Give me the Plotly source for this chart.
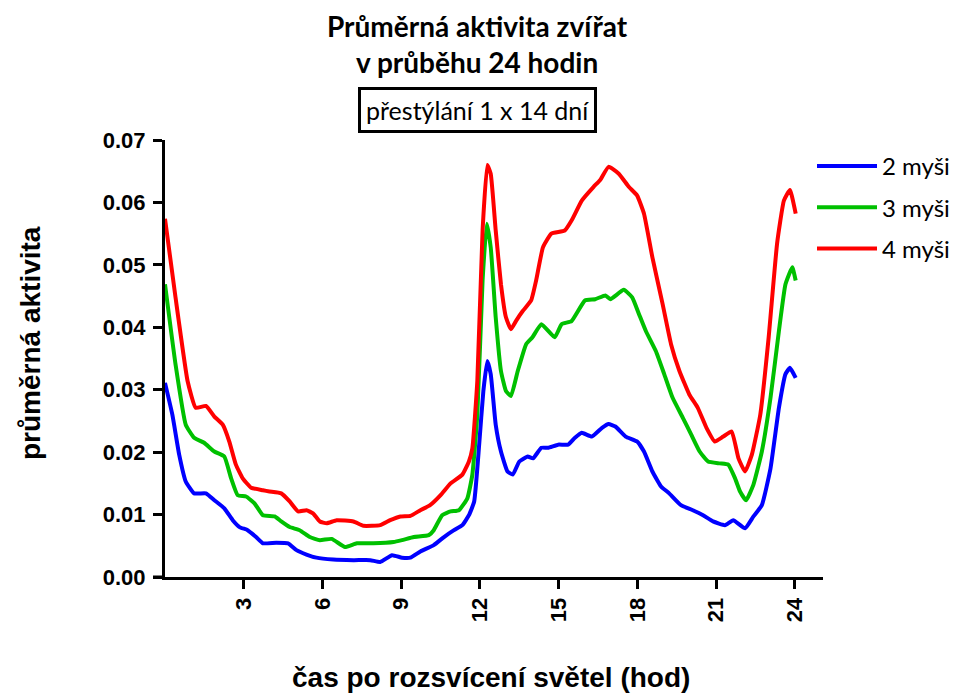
import plotly.graph_objects as go

# ---- data (hours after lights on, mean activity) ----
hours_2 = [0, 0.28, 0.54, 0.79, 1.11, 1.56, 1.88, 2.26, 2.58, 2.84, 3.15, 3.47, 3.73, 4.24, 4.69, 5.01,
           5.39, 5.77, 6.41, 7.18, 7.82, 8.2, 8.65, 9.03, 9.35, 9.73, 10.24, 10.63, 11.01, 11.33, 11.58,
           11.78, 11.97, 12.13, 12.28, 12.41, 12.6, 12.8, 13.05, 13.25, 13.5, 13.82, 14.02, 14.34, 14.59,
           14.98, 15.36, 15.62, 15.88, 16.26, 16.65, 16.9, 17.16, 17.55, 17.99, 18.25, 18.57, 18.9, 19.21,
           19.66, 20.11, 20.5, 20.88, 21.33, 21.65, 22.1, 22.42, 22.74, 23.07, 23.39, 23.64, 23.81, 24.03]
mys_2 = [0.0311, 0.0260, 0.0196, 0.0153, 0.0134, 0.0134, 0.0123, 0.0110, 0.0091, 0.0080, 0.0075, 0.0064,
         0.0054, 0.0055, 0.0054, 0.0043, 0.0036, 0.0031, 0.0028, 0.0027, 0.0027, 0.0024, 0.0035, 0.0031,
         0.0031, 0.0041, 0.0051, 0.0064, 0.0075, 0.0083, 0.0099, 0.0121, 0.0212, 0.0298, 0.0346, 0.0325,
         0.0244, 0.0201, 0.0169, 0.0164, 0.0185, 0.0193, 0.0190, 0.0207, 0.0207, 0.0212, 0.0212, 0.0223,
         0.0231, 0.0225, 0.0239, 0.0245, 0.0241, 0.0225, 0.0217, 0.0201, 0.0169, 0.0145, 0.0134, 0.0115,
         0.0107, 0.0099, 0.0089, 0.0083, 0.0091, 0.0078, 0.0097, 0.0115, 0.0174, 0.0271, 0.0325, 0.0335,
         0.0319]

hours_3 = [0, 0.4, 0.79, 1.11, 1.49, 1.88, 2.26, 2.52, 2.77, 3.09, 3.41, 3.73, 4.18, 4.43, 4.75, 5.13,
           5.52, 5.9, 6.35, 6.86, 7.31, 7.94, 8.71, 9.03, 9.48, 10.05, 10.24, 10.56, 10.88, 11.2, 11.52,
           11.71, 11.9, 12.1, 12.26, 12.41, 12.6, 12.8, 12.99, 13.18, 13.44, 13.76, 14.0, 14.34, 14.85,
           15.11, 15.49, 16.0, 16.39, 16.78, 16.97, 17.48, 17.8, 18.06, 18.32, 18.7, 19.02, 19.34, 19.73,
           20.05, 20.37, 20.69, 21.14, 21.46, 21.72, 21.91, 22.14, 22.42, 22.74, 23.07, 23.39, 23.64, 23.9,
           24.03]
mys_3 = [0.0469, 0.0341, 0.0244, 0.0223, 0.0215, 0.0201, 0.0193, 0.0158, 0.0131, 0.0129, 0.0118, 0.0099,
         0.0097, 0.0089, 0.0080, 0.0075, 0.0064, 0.0059, 0.0061, 0.0048, 0.0054, 0.0054, 0.0056, 0.0059,
         0.0064, 0.0067, 0.0075, 0.0099, 0.0105, 0.0107, 0.0126, 0.0164, 0.0260, 0.0475, 0.0566, 0.0528,
         0.0416, 0.0330, 0.0298, 0.0290, 0.0330, 0.0373, 0.0384, 0.0405, 0.0384, 0.0405, 0.0410, 0.0443,
         0.0445, 0.0451, 0.0445, 0.0460, 0.0448, 0.0421, 0.0394, 0.0362, 0.0325, 0.0287, 0.0255, 0.0228,
         0.0201, 0.0185, 0.0182, 0.0180, 0.0158, 0.0137, 0.0123, 0.0148, 0.0201, 0.0287, 0.0394, 0.0469,
         0.0496, 0.0475]

hours_4 = [0, 0.4, 0.86, 1.17, 1.56, 1.88, 2.2, 2.45, 2.7, 2.96, 3.28, 3.73, 3.98, 4.43, 4.75, 5.07, 5.39,
           5.64, 5.9, 6.16, 6.54, 7.18, 7.56, 8.2, 8.58, 8.97, 9.35, 9.73, 10.1, 10.5, 10.88, 11.33, 11.58,
           11.71, 11.9, 12.1, 12.28, 12.41, 12.6, 12.8, 12.99, 13.18, 13.37, 13.63, 13.95, 14.14, 14.4,
           14.72, 15.23, 15.49, 15.88, 16.33, 16.58, 16.9, 17.29, 17.67, 17.99, 18.25, 18.57, 18.96, 19.28,
           19.6, 19.98, 20.3, 20.63, 20.95, 21.27, 21.59, 21.85, 22.1, 22.36, 22.68, 23.0, 23.32, 23.58,
           23.81, 24.03]
mys_4 = [0.0574, 0.0448, 0.0314, 0.0271, 0.0274, 0.0257, 0.0244, 0.0217, 0.0180, 0.0158, 0.0143, 0.0139,
         0.0137, 0.0134, 0.0121, 0.0105, 0.0107, 0.0102, 0.0089, 0.0086, 0.0091, 0.0089, 0.0082, 0.0083,
         0.0091, 0.0097, 0.0098, 0.0107, 0.0115, 0.0131, 0.0150, 0.0164, 0.0185, 0.0206, 0.0314, 0.0555,
         0.0660, 0.0646, 0.0555, 0.0469, 0.0416, 0.0397, 0.0410, 0.0426, 0.0443, 0.0475, 0.0528, 0.0550,
         0.0555, 0.0571, 0.0603, 0.0625, 0.0636, 0.0657, 0.0646, 0.0625, 0.0611, 0.0582, 0.0512, 0.0437,
         0.0373, 0.0330, 0.0292, 0.0271, 0.0239, 0.0217, 0.0225, 0.0233, 0.0190, 0.0169, 0.0196, 0.0260,
         0.0384, 0.0534, 0.0603, 0.0620, 0.0582]

series_names = ["2 myši", "3 myši", "4 myši"]
series_colors = ["#0000FF", "#00C000", "#FF0000"]
x_ticks = [3, 6, 9, 12, 15, 18, 21, 24]
y_ticks = [0.00, 0.01, 0.02, 0.03, 0.04, 0.05, 0.06, 0.07]

fig = go.Figure()
for i, (hx, vy) in enumerate([(hours_2, mys_2), (hours_3, mys_3), (hours_4, mys_4)]):
    fig.add_trace(go.Scatter(
        x=hx, y=vy, mode="lines", name=series_names[i], legendgroup=str(i),
        line=dict(color=series_colors[i], width=4, shape="spline", smoothing=0.4),
    ))

# page has an 8px body margin; figure sized so the plot area lands where the reference has it
PW, PH = 658, 437  # plot area size in px


def px(xp):
    return (xp - 165) / PW


def py(yp):
    return (577 - yp) / PH


fig.update_layout(
    width=961, height=688,
    paper_bgcolor="white", plot_bgcolor="white",
    margin=dict(l=157, r=146, t=132, b=119),
    showlegend=True,
    legend=dict(
        x=px(812), xanchor="left", y=py(144), yanchor="top",
        font=dict(family="Lato, Open Sans", size=24, color="black"),
        tracegroupgap=7, itemwidth=60, bgcolor="rgba(0,0,0,0)",
    ),
    xaxis=dict(
        range=[0, 25.07], tickvals=x_ticks, ticktext=[str(t) for t in x_ticks],
        tickangle=-90, ticks="outside", ticklen=9, tickwidth=3, tickcolor="black",
        showline=True, linewidth=3, linecolor="black", showgrid=False, zeroline=False,
        tickfont=dict(family="Liberation Sans, Arial", size=22, color="black", weight="bold"),
    ),
    yaxis=dict(
        range=[0, 0.07], tickvals=y_ticks, tickformat=".2f",
        ticks="outside", ticklen=9, tickwidth=3, tickcolor="black", ticklabelstandoff=3,
        showline=True, linewidth=3, linecolor="black", showgrid=False, zeroline=False,
        tickfont=dict(family="Liberation Sans, Arial", size=22, color="black", weight="bold"),
    ),
)

# extend x axis line slightly left of the y axis (Prism style)
fig.add_shape(type="line", xref="paper", yref="paper", x0=px(153), x1=0, y0=0, y1=0,
              line=dict(color="black", width=3))

# titles
fig.add_annotation(text="<b>Průměrná aktivita zvířat</b>", xref="paper", yref="paper",
                   x=px(477), y=py(26), xanchor="center", yanchor="middle",
                   showarrow=False, font=dict(family="Lato, Open Sans", size=28, color="black"))
fig.add_annotation(text="<b>v průběhu 24 hodin</b>", xref="paper", yref="paper",
                   x=px(477), y=py(62), xanchor="center", yanchor="middle",
                   showarrow=False, font=dict(family="Lato, Open Sans", size=28, color="black"))
fig.add_annotation(text="přestýlání 1 x 14 dní", xref="paper", yref="paper",
                   x=px(477), y=py(110), xanchor="center", yanchor="middle",
                   showarrow=False, font=dict(family="Lato, Open Sans", size=25, color="black"),
                   bordercolor="black", borderwidth=3, borderpad=5, bgcolor="white")
fig.add_annotation(text="<b>průměrná aktivita</b>", xref="paper", yref="paper",
                   x=px(30), y=py(343), xanchor="center", yanchor="middle",
                   textangle=-90, showarrow=False,
                   font=dict(family="Liberation Sans, Arial", size=28, color="black"))
fig.add_annotation(text="<b>čas po rozsvícení světel (hod)</b>", xref="paper", yref="paper",
                   x=px(491), y=py(677), xanchor="center", yanchor="middle",
                   showarrow=False, font=dict(family="Liberation Sans, Arial", size=28, color="black"))

fig.write_html("out.html")
